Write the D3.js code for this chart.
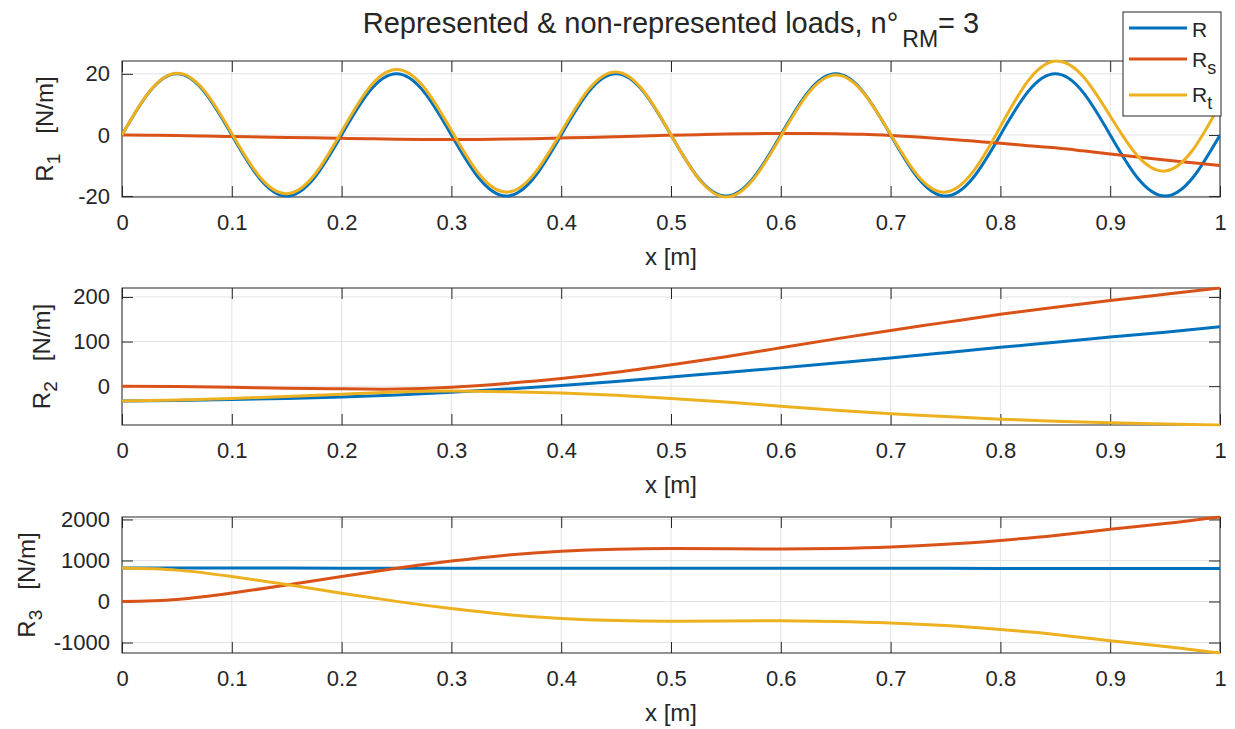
<!DOCTYPE html>
<html>
<head>
<meta charset="utf-8">
<script src="https://cdn.jsdelivr.net/npm/d3@7"></script>
<style>
  body { margin: 0; background: #fff; }
  text { font-family: "Liberation Sans", Arial, Helvetica, sans-serif; fill: #262626; }
</style>
</head>
<body>
<svg id="chart"></svg>
<script>
// ---------------- DATA ----------------
const seriesNames = ["R", "R", "R"];
const seriesSubs = ["", "s", "t"];
const seriesColors = ["#0072BD", "#D95319", "#EDB120"];

const xTicks = [0, 0.1, 0.2, 0.3, 0.4, 0.5, 0.6, 0.7, 0.8, 0.9, 1];
const xTickLabels = ["0", "0.1", "0.2", "0.3", "0.4", "0.5", "0.6", "0.7", "0.8", "0.9", "1"];

// panel 1 (R1)
const x1 = [0, 0.025, 0.05, 0.075, 0.1, 0.125, 0.15, 0.175, 0.2, 0.225, 0.25, 0.275, 0.3, 0.325, 0.35, 0.375,
  0.4, 0.425, 0.45, 0.475, 0.5, 0.525, 0.55, 0.575, 0.6, 0.625, 0.65, 0.675, 0.7, 0.725, 0.75, 0.775,
  0.8, 0.825, 0.85, 0.875, 0.9, 0.925, 0.95, 0.975, 1];
const r1R = [0, 14.1, 20, 14.1, 0, -14.1, -20, -14.1, 0, 14.1, 20, 14.1, 0, -14.1, -20, -14.1,
  0, 14.1, 20, 14.1, 0, -14.1, -20, -14.1, 0, 14.1, 20, 14.1, 0, -14.1, -20, -14.1,
  0, 14.1, 20, 14.1, 0, -14.1, -20, -14.1, 0];
const r1Rs = [0, -0.1, -0.2, -0.35, -0.5, -0.65, -0.8, -0.95, -1.1, -1.25, -1.4, -1.5, -1.5, -1.45, -1.35, -1.2,
  -1.0, -0.8, -0.55, -0.3, -0.1, 0.1, 0.3, 0.4, 0.5, 0.5, 0.4, 0.2, -0.2, -0.7, -1.3, -2.0,
  -2.7, -3.5, -4.2, -5.2, -6.2, -7.2, -8.2, -9.1, -10];
const r1Rt = [0, 14.2, 20.2, 14.5, 0.5, -13.5, -19.2, -13.2, 1.1, 15.4, 21.4, 15.6, 1.5, -12.7, -18.7, -12.9,
  1.0, 14.9, 20.6, 14.4, 0.1, -14.2, -20.3, -14.5, -0.5, 13.6, 19.6, 13.9, 0.2, -13.4, -18.7, -12.1,
  2.7, 17.6, 24.2, 19.3, 6.2, -6.9, -11.8, -5.0, 10];
const y1Ticks = [-20, 0, 20];
const y1TickLabels = ["-20", "0", "20"];

// panel 2 (R2)
const x2 = [0, 0.05, 0.1, 0.15, 0.2, 0.25, 0.3, 0.35, 0.4, 0.45, 0.5, 0.55, 0.6, 0.65, 0.7, 0.75, 0.8, 0.85, 0.9, 0.95, 1];
const r2R = [-33, -32, -30, -27.5, -24, -19.5, -13.5, -6.5, 1.5, 10.5, 20.5, 30.5, 41, 52, 63, 75, 87, 98.5, 110, 121, 133];
const r2Rs = [0, -1, -2.5, -4.5, -6, -6.5, -2.5, 6, 17, 31, 48, 66, 86, 106, 125, 143, 161, 177, 192, 206, 220];
const r2Rt = [-33, -31, -27.5, -23, -18, -13, -11, -12.5, -15.5, -20.5, -27.5, -35.5, -45, -54, -62, -68, -74, -78.5, -82, -85, -87];
const y2Ticks = [0, 100, 200];
const y2TickLabels = ["0", "100", "200"];

// panel 3 (R3)
const x3 = [0, 0.05, 0.1, 0.15, 0.2, 0.25, 0.3, 0.35, 0.4, 0.45, 0.5, 0.55, 0.6, 0.65, 0.7, 0.75, 0.8, 0.85, 0.9, 0.95, 1];
const r3R = [815, 815, 814, 814, 813, 813, 812, 812, 811, 811, 810, 810, 809, 809, 808, 808, 807, 807, 806, 806, 805];
const r3Rs = [0, 50, 205, 400, 610, 810, 985, 1130, 1225, 1275, 1290, 1285, 1280, 1295, 1330, 1395, 1490, 1610, 1760, 1900, 2060];
const r3Rt = [815, 765, 609, 414, 203, 3, -173, -318, -414, -464, -480, -475, -471, -486, -522, -587, -683, -803, -954, -1094, -1255];
const y3Ticks = [-1000, 0, 1000, 2000];
const y3TickLabels = ["-1000", "0", "1000", "2000"];

// ---------------- LAYOUT ----------------
const width = 1235, height = 729;
const plotLeft = 122, plotRight = 1220;
const tickLen = 11;

const panels = [
  { xs: x1, ys: [r1R, r1Rs, r1Rt], yTicks: y1Ticks, yLabels: y1TickLabels, sub: "1", top: 61, bottom: 197, labelX: 53 },
  { xs: x2, ys: [r2R, r2Rs, r2Rt], yTicks: y2Ticks, yLabels: y2TickLabels, sub: "2", top: 288, bottom: 425, labelX: 50 },
  { xs: x3, ys: [r3R, r3Rs, r3Rt], yTicks: y3Ticks, yLabels: y3TickLabels, sub: "3", top: 517, bottom: 653, labelX: 35 }
];

const svg = d3.select("#chart").attr("width", width).attr("height", height);

const xScale = d3.scaleLinear().domain([0, 1]).range([plotLeft, plotRight]);

panels.forEach((p, pi) => {
  const yScale = d3.scaleLinear()
    .domain(d3.extent(p.ys.flat()))
    .range([p.bottom, p.top]);

  const g = svg.append("g");

  // grid
  g.append("g").selectAll("line").data(xTicks).join("line")
    .attr("x1", d => xScale(d)).attr("x2", d => xScale(d))
    .attr("y1", p.top).attr("y2", p.bottom)
    .attr("stroke", "#e3e3e3").attr("stroke-width", 1);
  g.append("g").selectAll("line").data(p.yTicks).join("line")
    .attr("x1", plotLeft).attr("x2", plotRight)
    .attr("y1", d => yScale(d)).attr("y2", d => yScale(d))
    .attr("stroke", "#e3e3e3").attr("stroke-width", 1);

  // axes (ticks inward, box on)
  const styleAxis = sel => {
    sel.select(".domain").remove();
    sel.selectAll(".tick line").attr("stroke", "#262626");
    sel.selectAll(".tick text").attr("fill", "#262626")
      .style("font-family", '"Liberation Sans", Arial, sans-serif').style("font-size", "22px");
  };
  g.append("g").attr("transform", `translate(0,${p.bottom})`)
    .call(d3.axisBottom(xScale).tickValues(xTicks).tickFormat((d, i) => xTickLabels[i])
      .tickSize(-tickLen).tickPadding(17))
    .call(styleAxis);
  g.append("g").attr("transform", `translate(0,${p.top})`)
    .call(d3.axisTop(xScale).tickValues(xTicks).tickFormat("").tickSize(-tickLen))
    .call(styleAxis);
  g.append("g").attr("transform", `translate(${plotLeft},0)`)
    .call(d3.axisLeft(yScale).tickValues(p.yTicks).tickFormat((d, i) => p.yLabels[i])
      .tickSize(-tickLen).tickPadding(12))
    .call(styleAxis);
  g.append("g").attr("transform", `translate(${plotRight},0)`)
    .call(d3.axisRight(yScale).tickValues(p.yTicks).tickFormat("").tickSize(-tickLen))
    .call(styleAxis);

  // box
  g.append("rect")
    .attr("x", plotLeft).attr("y", p.top)
    .attr("width", plotRight - plotLeft).attr("height", p.bottom - p.top)
    .attr("fill", "none").attr("stroke", "#262626").attr("stroke-width", 1);

  // clip
  const clipId = "clip" + pi;
  svg.append("clipPath").attr("id", clipId).append("rect")
    .attr("x", plotLeft).attr("y", p.top - 1.5)
    .attr("width", plotRight - plotLeft).attr("height", p.bottom - p.top + 3);

  const lineGen = d3.line()
    .x(d => xScale(d[0]))
    .y(d => yScale(d[1]))
    .curve(d3.curveNatural);

  p.ys.forEach((vals, si) => {
    g.append("path")
      .datum(vals.map((v, j) => [p.xs[j], v]))
      .attr("clip-path", `url(#${clipId})`)
      .attr("fill", "none")
      .attr("stroke", seriesColors[si])
      .attr("stroke-width", 3)
      .attr("d", lineGen);
  });

  // x label
  g.append("text")
    .attr("x", (plotLeft + plotRight) / 2).attr("y", p.bottom + 68)
    .attr("text-anchor", "middle").style("font-size", "24px")
    .text("x [m]");

  // y label
  const yl = g.append("text")
    .attr("transform", `translate(${p.labelX},${(p.top + p.bottom) / 2}) rotate(-90)`)
    .attr("text-anchor", "middle").style("font-size", "24px");
  yl.append("tspan").text("R");
  yl.append("tspan").attr("dy", 7).style("font-size", "19px").text(p.sub);
  yl.append("tspan").attr("dy", -7).attr("dx", 20).text("[N/m]");
});

// title
const title = svg.append("text")
  .attr("x", (plotLeft + plotRight) / 2).attr("y", 33)
  .attr("text-anchor", "middle").style("font-size", "29px");
title.append("tspan").text("Represented & non-represented loads, n°");
title.append("tspan").attr("dy", 14).attr("dx", 4).style("font-size", "23px").text("RM");
title.append("tspan").attr("dy", -14).text("= 3");

// legend
const legend = svg.append("g");
legend.append("rect")
  .attr("x", 1123).attr("y", 12).attr("width", 98).attr("height", 104)
  .attr("fill", "#fff").attr("stroke", "#262626").attr("stroke-width", 1);
const legendLineY = [28, 59, 95];
const legendTextY = [37, 67, 102];
seriesNames.forEach((name, i) => {
  legend.append("line")
    .attr("x1", 1129).attr("x2", 1187)
    .attr("y1", legendLineY[i]).attr("y2", legendLineY[i])
    .attr("stroke", seriesColors[i]).attr("stroke-width", 3);
  const t = legend.append("text")
    .attr("x", 1192).attr("y", legendTextY[i]).style("font-size", "21px");
  t.append("tspan").text(name);
  if (seriesSubs[i]) {
    t.append("tspan").attr("dy", 7).style("font-size", "18px").text(seriesSubs[i]);
  }
});
</script>
</body>
</html>
